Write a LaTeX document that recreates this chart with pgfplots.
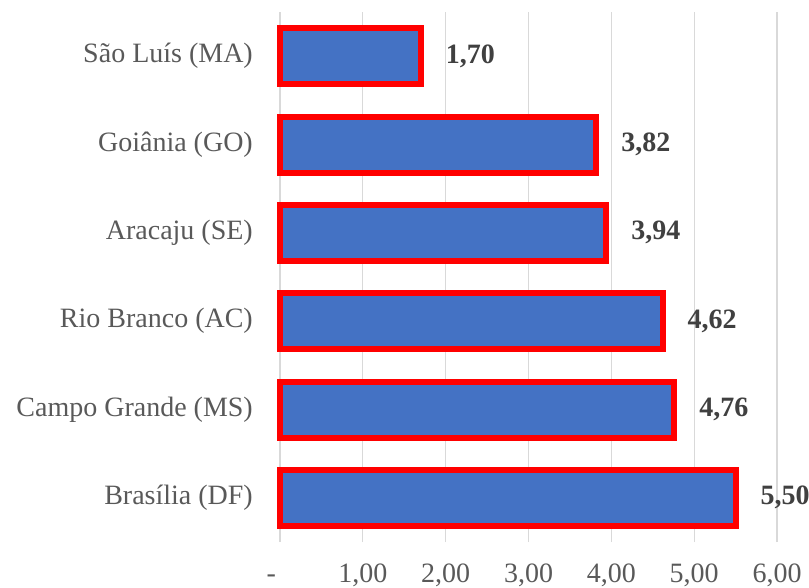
\documentclass[border=0pt]{standalone}
\usepackage{fontspec}
\setmainfont{Liberation Serif}
\usepackage{pgfplots}
\pgfplotsset{compat=1.18}
\definecolor{barBlue}{HTML}{4472C4}
\definecolor{barEdge}{HTML}{FF0000}
\definecolor{gridGray}{HTML}{D9D9D9}
\definecolor{tickGray}{HTML}{595959}
\definecolor{valGray}{HTML}{404040}

\begin{document}
\begin{tikzpicture}
  \begin{axis}[
    name=ax,
    xbar,
    width=497pt,height=530pt,scale only axis,
    xmin=0,xmax=6,ymin=-0.5,ymax=5.5,
    xtick={0,1,2,3,4,5,6},
    xticklabels={\makebox[0pt][r]{-\hspace{4pt}},{1,00},{2,00},{3,00},{4,00},{5,00},{6,00}},
    ytick={0,1,2,3,4,5},
    yticklabels={Brasília (DF),Campo Grande (MS),Rio Branco (AC),Aracaju (SE),Goiânia (GO),São Luís (MA)},
    tick label style={font=\fontsize{28}{33}\selectfont,text=tickGray,inner sep=0pt},
    xticklabel style={anchor=base,yshift=-40pt},
    yticklabel style={anchor=east,xshift=-27pt},
    major tick length=0pt,
    axis line style={draw=none},
    xmajorgrids,grid style={gridGray,line width=1.2pt},
    bar width=56pt,
    nodes near coords,
    point meta=explicit symbolic,
    every node near coord/.append style={font=\bfseries\fontsize{28}{33}\selectfont,text=valGray,anchor=west,inner sep=0pt,xshift=22pt},
    clip=false]
    \addplot[fill=barBlue,draw=barEdge,line width=6pt]
      coordinates {(5.50,0) [5,50] (4.76,1) [4,76] (4.62,2) [4,62]
                   (3.94,3) [3,94] (3.82,4) [3,82] (1.70,5) [1,70]};
  \end{axis}
  \pgfresetboundingbox
  \path ([xshift=-280pt,yshift=-45pt]ax.south west) rectangle ([xshift=32pt,yshift=12pt]ax.north east);
\end{tikzpicture}
\end{document}
